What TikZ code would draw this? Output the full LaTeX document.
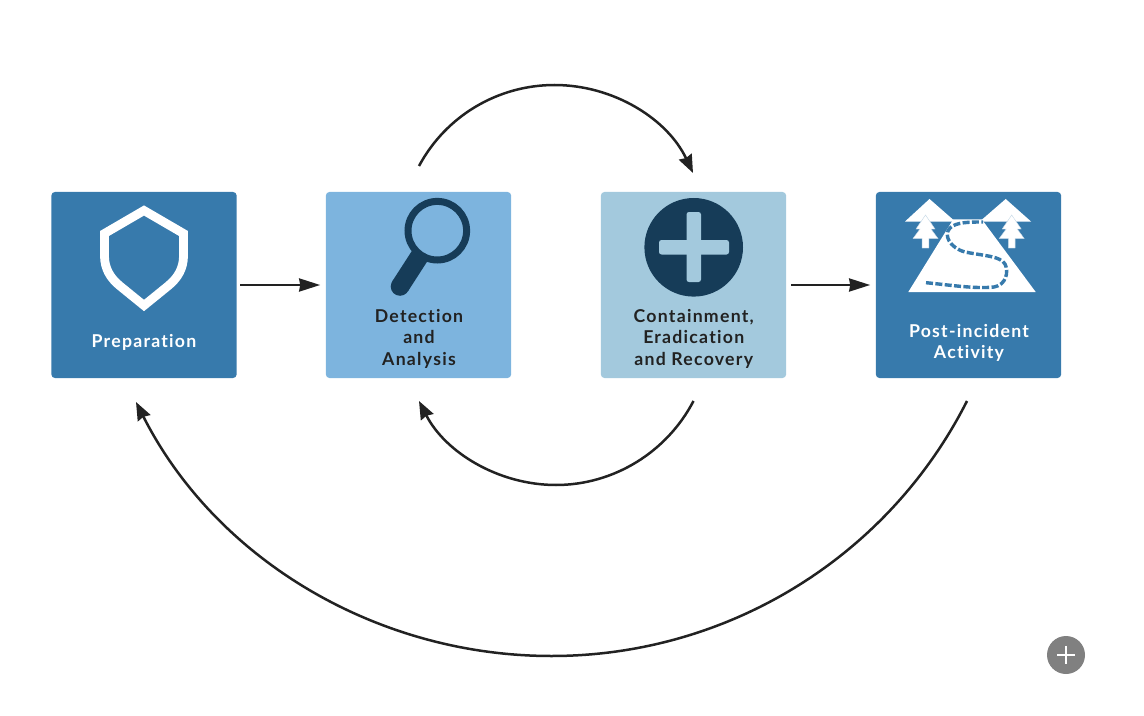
\documentclass[tikz,border=0pt]{standalone}
\usepackage{fontspec}
\setmainfont{Lato}[Ligatures=NoCommon,LetterSpace=6]
\usetikzlibrary{arrows.meta}
\definecolor{bluedark}{HTML}{377AAC}
\definecolor{bluemid}{HTML}{7DB4DE}
\definecolor{bluelight}{HTML}{A3C9DD}
\definecolor{navy}{HTML}{163C58}
\definecolor{ink}{HTML}{222222}
\tikzset{
  x=1bp,y=-1bp,
  box/.style={minimum width=185.2bp,minimum height=186bp,inner sep=0pt,rounded corners=3.5bp},
  lab/.style={align=center,inner sep=0pt,font=\fontsize{17.7bp}{21.5bp}\selectfont\bfseries\addfontfeature{LetterSpace=7,Ligatures=NoCommon}},
  conn/.style={draw=ink,line width=2.5bp,-{Stealth[length=18bp,width=14bp,inset=1.5bp]}},
  flow/.style={draw=ink,line width=2.5bp,-{Stealth[length=21bp,width=13bp,inset=1bp]}},
  pics/pinetree/.style={code={
    \fill[white,draw=bluedark!30!white,line width=.4bp] (0,-1) -- (9.5,13) -- (5.5,13) -- (12.5,22.5) -- (3.4,22.5) -- (3.4,32) -- (-3.4,32) -- (-3.4,22.5) -- (-12.5,22.5) -- (-5.5,13) -- (-9.5,13) -- cycle;
  }}
}
\begin{document}
\begin{tikzpicture}
\useasboundingbox (0,0) rectangle (1144,716);
\node[box,fill=bluedark] (prep) at (144,285) {};
\node[box,fill=bluemid] (det) at (418.5,285) {};
\node[box,fill=bluelight] (cont) at (693.5,285) {};
\node[box,fill=bluedark] (post) at (968.5,285) {};
% labels
\node[lab,text=white] (lprep) at (144,342.5) {Preparation};
\node[lab,text=ink] (ldet) at (419,338.5) {Detection\\and\\Analysis};
\node[lab,text=ink] (lcont) at (693.75,338.5) {Containment,\\Eradication\\and Recovery};
\node[lab,text=white] (lpost) at (969,343) {Post-incident\\Activity};
% shield
\draw[white,line width=8.8bp,miter limit=10] (144,210.5) -- (183.5,233.5) -- (183.5,256) .. controls (183.5,268) and (178,278) .. (168,286) -- (144,305.5) -- (120,286) .. controls (110,278) and (104.5,268) .. (104.5,256) -- (104.5,233.5) -- cycle;
% magnifier
\draw[navy,line width=7bp] (437.3,230.7) circle[radius=29.3];
\draw[navy,line width=18.6bp] (400,286.5) -- (420,255.5);
\fill[navy] (400,286.5) circle[radius=9.3];
% plus
\fill[navy] (693.7,247.3) circle[radius=49.3];
\fill[bluelight,rounded corners=2.5bp] (659,240) rectangle (729,254.5);
\fill[bluelight,rounded corners=2.5bp] (686.5,212) rectangle (701,282);
% mountains
\fill[white] (905,221.5) -- (929.5,199) -- (953.5,220) -- (981.5,220) -- (1005.7,199) -- (1031,221.5) -- cycle;
\pic at (925.5,216) {pinetree};
\pic at (1011.7,216) {pinetree};
\fill[white] (908.3,292) -- (953.3,219.3) -- (981.7,219.3) -- (1035.7,292) -- cycle;
\draw[bluedark,line width=3.4bp,dash pattern=on 7bp off 2.4bp] (926,282.7) .. controls (950,285) and (975,289) .. (994,287) .. controls (1006,285) and (1009,272) .. (1005,264) .. controls (1000,256) and (985,256) .. (965,252) .. controls (950,248) and (943,235) .. (950,228) .. controls (956,222) and (970,222) .. (983,222);
% button
\fill[black!50] (1066,655) circle[radius=19];
\draw[white,line width=1.8bp] (1057,654.8) -- (1075,654.8) (1066,645.8) -- (1066,663.8);
% straight connectors
\draw[flow] ([xshift=3.5bp]prep.east) -- ([xshift=-5.5bp]det.west);
\draw[flow] ([xshift=5bp]cont.east) -- ([xshift=-5.5bp]post.west);
% arcs
\coordinate (ta) at (419,166);
\coordinate (tm) at (554.5,85);
\coordinate (tb) at (693,173);
\coordinate (ba) at (693.5,401);
\coordinate (bm) at (556,485);
\coordinate (bb) at (419,401);
\coordinate (ga) at (967,401);
\coordinate (gm) at (551.5,656);
\coordinate (gb) at (136,402);
\draw[conn] (ta) .. controls (445.8,116) and (497.8,85) .. (tm) .. controls (613.5,85) and (667.4,118.9) .. (tb);
\draw[conn] (ba) .. controls (666.8,452.3) and (613.6,485) .. (bm) .. controls (498.4,485) and (445.2,452.3) .. (bb);
\draw[conn] (ga) .. controls (887.7,557.8) and (727,656) .. (gm) .. controls (376,656) and (215.3,558.8) .. (gb);
\end{tikzpicture}
\end{document}
